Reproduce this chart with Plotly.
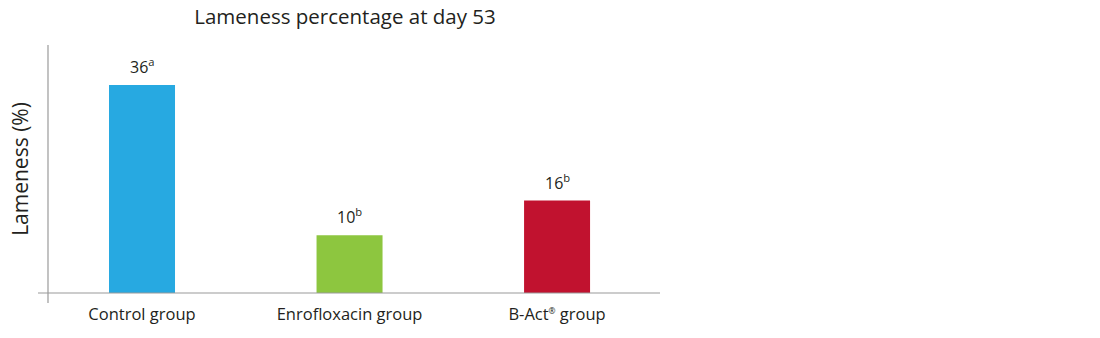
import plotly.graph_objects as go

categories = ["Control group", "Enrofloxacin group",
              "B-Act<span style='font-size:12px'><sup>®</sup></span> group"]
values = [36, 10, 16]
letters = ["a", "b", "b"]
colors = ["#27A9E1", "#8DC63F", "#C1122F"]

W, H = 1100, 338
L, R, T, B = 48, 440, 45, 45
FONT = "Open Sans"

fig = go.Figure()
fig.add_trace(go.Bar(
    x=[0, 1, 2], y=values, marker=dict(color=colors, line=dict(width=0)),
    width=0.318, hoverinfo="skip",
))

for i, (v, l) in enumerate(zip(values, letters)):
    fig.add_annotation(x=i, y=v, xref="x", yref="y", text=f"{v}<sup>{l}</sup>",
                       showarrow=False, yanchor="bottom", yshift=5,
                       font=dict(family=FONT, size=16, color="#231F20"))

pw = W - L - R
ph = H - T - B
# axis lines (spines extending past each other)
fig.add_shape(type="line", xref="paper", yref="paper",
              x0=-10 / pw, x1=1, y0=0, y1=0, line=dict(color="#9A9A9A", width=1.2))
fig.add_shape(type="line", xref="paper", yref="paper",
              x0=0, x1=0, y0=-10 / ph, y1=1, line=dict(color="#9A9A9A", width=1.2))

fig.update_layout(
    width=W, height=H,
    margin=dict(l=L, r=R, t=T, b=B),
    paper_bgcolor="white", plot_bgcolor="white",
    showlegend=False,
    title=dict(text="Lameness percentage at day 53", x=345 / W, xanchor="center",
               y=1 - 17 / H, yanchor="middle",
               font=dict(family=FONT, size=20.5, color="#231F20")),
    xaxis=dict(range=[-0.453, 2.496], tickvals=[0, 1, 2], ticktext=categories,
               showgrid=False, zeroline=False, showline=False, ticks="",
               ticklabelstandoff=9,
               tickfont=dict(family=FONT, size=16.5, color="#231F20")),
    yaxis=dict(range=[0, 42.9], showticklabels=False, showgrid=False, zeroline=False,
               showline=False, ticks="",
               title=dict(text="Lameness (%)", standoff=12,
                          font=dict(family=FONT, size=21, color="#231F20"))),
)

fig.write_html("out.html")
